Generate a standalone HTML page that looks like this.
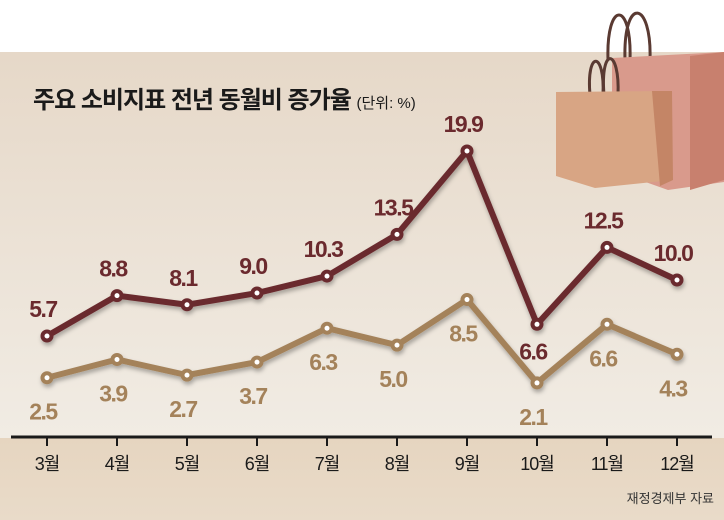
<!DOCTYPE html>
<html><head><meta charset="utf-8"><style>
html,body{margin:0;padding:0;width:724px;height:520px;overflow:hidden;background:#fff}
svg{display:block;font-family:"Liberation Sans","Noto Sans CJK KR",sans-serif}
</style></head><body>
<svg id="chart" width="724" height="520" viewBox="0 0 724 520">
<defs>
<linearGradient id="bg" x1="0" y1="0" x2="0" y2="1">
<stop offset="0" stop-color="#e6d8c8"/><stop offset="1" stop-color="#f1ece4"/>
</linearGradient>
<linearGradient id="bg2" x1="0" y1="0" x2="0" y2="1">
<stop offset="0" stop-color="#e6d5c0"/><stop offset="1" stop-color="#e9dbc9"/>
</linearGradient>
<filter id="sh" x="-10%" y="-10%" width="120%" height="130%"><feDropShadow dx="1" dy="3" stdDeviation="2" flood-color="#000" flood-opacity="0.3"/></filter>
</defs>
<rect x="0" y="0" width="724" height="52" fill="#fff"/>
<rect x="0" y="52" width="724" height="386" fill="url(#bg)"/>
<rect x="0" y="438" width="724" height="82" fill="url(#bg2)"/>
<g>
<path d="M608 60 C606 0 632 0 630 60 M625 60 C623 -5 652 0 650 60" stroke="#5a3a32" stroke-width="3" fill="none"/>
<polygon points="612,58 724,52 724,182 668,190 612,170" fill="#d99a8c"/>
<polygon points="690,56 724,52 724,180 690,190" fill="#c8806e"/>
<path d="M590 95 C586 50 605 50 603 95 M604 95 C600 45 620 48 618 95" stroke="#5a3a32" stroke-width="3" fill="none"/>
<polygon points="556,92 670,91 672,180 595,188 556,176" fill="#d8a584"/>
<polygon points="652,91 672,91 673,180 660,186" fill="#c48566"/>
</g>
<text x="33" y="108" font-size="24" font-weight="bold" fill="#1a1a1a" letter-spacing="-1">주요 소비지표 전년 동월비 증가율 <tspan font-size="15" font-weight="normal" letter-spacing="0">(단위: %)</tspan></text>
<line x1="11" y1="437" x2="712" y2="437" stroke="#1a1a1a" stroke-width="3"/>
<g id="xaxis"></g>
<g id="series"></g>
<text x="714" y="503" font-size="13" fill="#333" text-anchor="end">재정경제부 자료</text>
</svg>
<script>
const months = ["3월","4월","5월","6월","7월","8월","9월","10월","11월","12월"];
const upperValues = [5.7,8.8,8.1,9.0,10.3,13.5,19.9,6.6,12.5,10.0];
const lowerValues = [2.5,3.9,2.7,3.7,6.3,5.0,8.5,2.1,6.6,4.3];
const upperLabels = ["5.7","8.8","8.1","9.0","10.3","13.5","19.9","6.6","12.5","10.0"];
const lowerLabels = ["2.5","3.9","2.7","3.7","6.3","5.0","8.5","2.1","6.6","4.3"];
const NS="http://www.w3.org/2000/svg";
const xs=i=>47+i*70;
const ys=v=>410.3-13.03*v;
function mk(t,a,p){const e=document.createElementNS(NS,t);for(const k in a)e.setAttribute(k,a[k]);p.appendChild(e);return e;}
const xa=document.getElementById('xaxis');
months.forEach((m,i)=>{
  const t=mk('line',{x1:xs(i),y1:437,x2:xs(i),y2:446,stroke:'#1a1a1a','stroke-width':2},xa);
  
  
  const l=mk('text',{x:xs(i),y:470,'font-size':18,'text-anchor':'middle',fill:'#1a1a1a','letter-spacing':'-1'},xa);
  l.textContent=m;
  
  
});
const sg=document.getElementById('series');
function draw(vals,labels,color,name,off,below){
  const g=mk('g',{filter:'url(#sh)'},sg);
  const pl=mk('polyline',{points:vals.map((v,i)=>xs(i)+','+ys(v)).join(' '),fill:'none',stroke:color,'stroke-width':6,'stroke-linejoin':'round'},g);
  
  
  vals.forEach((v,i)=>{
    const c=mk('circle',{cx:xs(i),cy:ys(v),r:4.5,fill:'#fff',stroke:color,'stroke-width':4},g);
    
    
  });
  vals.forEach((v,i)=>{
    const o=below.includes(i)?35:off;
    const t=mk('text',{x:xs(i)-4,y:ys(v)+o,'font-size':23,'font-weight':'bold','text-anchor':'middle',fill:color,'letter-spacing':'-1.5'},sg);
    t.textContent=labels[i];
    
    
  });
}
draw(upperValues,upperLabels,'#6b2a2e','upper-series',-19,[7]);
draw(lowerValues,lowerLabels,'#a4825a','lower-series',42,[]);
</script>
</body></html>
